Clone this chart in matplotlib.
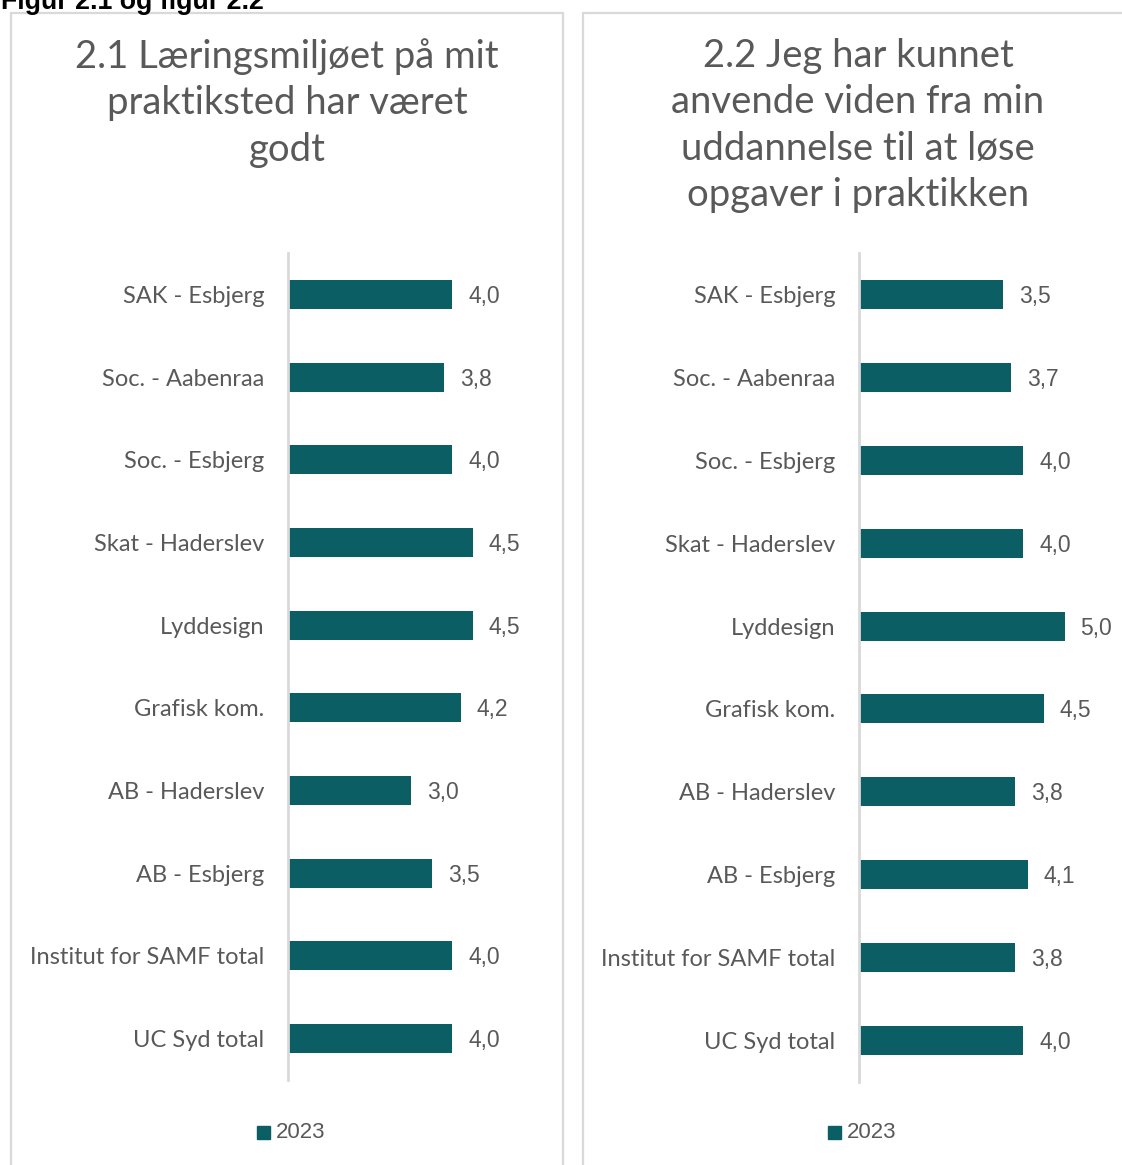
import matplotlib
matplotlib.use("Agg")
import matplotlib.pyplot as plt
from matplotlib.patches import Rectangle

categories = ["SAK - Esbjerg", "Soc. - Aabenraa", "Soc. - Esbjerg", "Skat - Haderslev",
              "Lyddesign", "Grafisk kom.", "AB - Haderslev", "AB - Esbjerg",
              "Institut for SAMF total", "UC Syd total"]
values_21 = [4.0, 3.8, 4.0, 4.5, 4.5, 4.2, 3.0, 3.5, 4.0, 4.0]
values_22 = [3.5, 3.7, 4.0, 4.0, 5.0, 4.5, 3.8, 4.1, 3.8, 4.0]
title_21 = "2.1 Læringsmiljøet på mit\npraktiksted har været\ngodt"
title_22 = "2.2 Jeg har kunnet\nanvende viden fra min\nuddannelse til at løse\nopgaver i praktikken"
header = "Figur 2.1 og figur 2.2"
series_name = "2023"

BAR = "#0B5E64"
GREY = "#595959"
BORDER = "#D9D9D9"
W, H = 1122, 1165

fig = plt.figure(figsize=(W / 100, H / 100), dpi=100)
fig.patch.set_facecolor("white")

def fx(x):
    return x / W

def fy(y):
    return 1 - y / H

def rect(x0, y0, w, h):
    return [x0 / W, 1 - (y0 + h) / H, w / W, h / H]

# panel borders
for x0, x1 in [(11, 563), (583, 1135)]:
    fig.add_artist(Rectangle((fx(x0), fy(1180)), fx(x1) - fx(x0), fy(13) - fy(1180),
                             transform=fig.transFigure, fill=False,
                             edgecolor=BORDER, linewidth=1.6))

fig.text(fx(1), fy(9), header, fontsize=19.3, fontweight="bold",
         family=["Liberation Sans", "DejaVu Sans"], color="black", va="baseline", ha="left")

def panel(ax_x, title, cx, vals, axis_bottom):
    ax = fig.add_axes(rect(ax_x, 253, 6 * 41.1, axis_bottom - 253))
    y = list(range(len(categories)))
    ax.barh(y, vals, height=0.35, color=BAR)
    ax.set_ylim(len(categories) - 0.5, -0.5)
    ax.set_xlim(0, 6)
    ax.set_yticks(y)
    ax.set_yticklabels(categories, fontsize=17, color=GREY, family=["Lato", "DejaVu Sans"])
    ax.tick_params(axis="y", length=0, pad=17)
    ax.set_xticks([])
    for s in ["top", "right", "bottom"]:
        ax.spines[s].set_visible(False)
    ax.spines["left"].set_color(BORDER)
    ax.spines["left"].set_linewidth(2)
    for yi, v in zip(y, vals):
        ax.annotate(f"{v:.1f}".replace(".", ","), (v, yi), xytext=(16, -2),
                    textcoords="offset pixels",
                    va="center", ha="left", fontsize=16.5, color=GREY,
                    family=["Liberation Sans", "DejaVu Sans"])
    fig.text(fx(cx), fy(38), title, ha="center", va="top", fontsize=27.5,
             color=GREY, family=["Lato", "DejaVu Sans"], fontweight="normal",
             linespacing=1.36)
    # legend
    fig.add_artist(Rectangle((fx(cx - 30), fy(1139)), 13 / W, 13 / H,
                             transform=fig.transFigure, color=BAR))
    fig.text(fx(cx - 11), fy(1133), series_name, ha="left", va="center",
             fontsize=16, color=GREY, family=["Liberation Sans", "DejaVu Sans"])
    return ax

panel(288, title_21, 287, values_21, 1080)
panel(859, title_22, 858, values_22, 1082)

fig.savefig("out.png", dpi=100, facecolor="white")
